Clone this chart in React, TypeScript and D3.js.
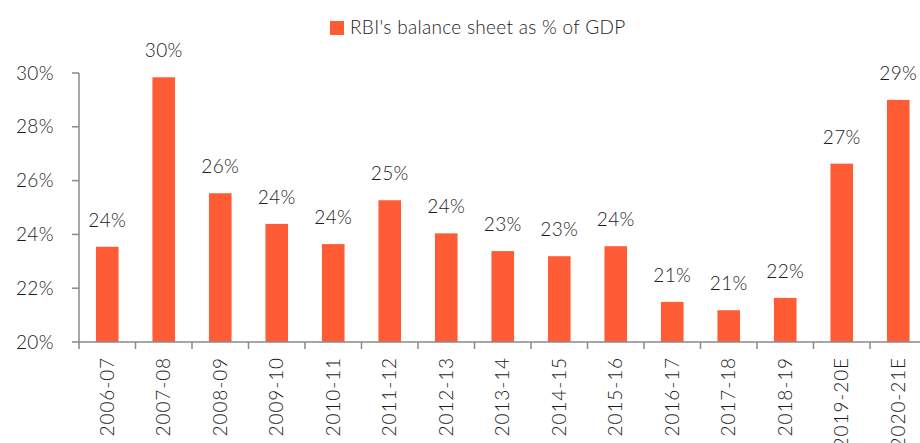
import React from "react";
import * as d3 from "d3";

const categories = ["2006-07","2007-08","2008-09","2009-10","2010-11","2011-12","2012-13","2013-14","2014-15","2015-16","2016-17","2017-18","2018-19","2019-20E","2020-21E"];
const values = [23.54,29.84,25.53,24.39,23.64,25.27,24.04,23.38,23.19,23.56,21.49,21.18,21.64,26.63,29.0];
const yTicks = [20,22,24,26,28,30];
const seriesName = "RBI's balance sheet as % of GDP";

const W = 920, H = 443;
const FONT = "Lato, 'Open Sans', sans-serif";
const BAR = "#FF5C35";
const AXIS = "#8a8a8a";
const TEXT = "#1c1c1c";

export default function App() {
  const x = d3.scaleBand<string>().domain(categories).range([79, 926.5]).paddingInner(0.6).paddingOuter(0.3);
  const y = d3.scaleLinear().domain([20, 30]).range([342, 73]);
  const step = x.step();
  return (
    <svg width={W} height={H} style={{ position: "absolute", left: 0, top: 0, background: "#fff" }} fontFamily={FONT}>
      {/* legend */}
      <rect x={330} y={21} width={14} height={14} fill={BAR} />
      <text x={350} y={34} fontSize={19} fill={TEXT} fontWeight={300} letterSpacing={0.3}>{seriesName}</text>
      {/* bars */}
      {categories.map((c, i) => (
        <g key={c}>
          <rect x={x(c)} y={y(values[i])} width={x.bandwidth()} height={y(20) - y(values[i])} fill={BAR} />
          <text x={(x(c) as number) + x.bandwidth() / 2} y={y(values[i]) - 20} textAnchor="middle" fontSize={19} fill={TEXT} fontWeight={300} letterSpacing={0.4}>
            {d3.format(".0f")(values[i]) + "%"}
          </text>
        </g>
      ))}
      {/* y axis */}
      <line x1={79} x2={79} y1={y(30)} y2={y(20)} stroke={AXIS} strokeWidth={1.5} />
      {yTicks.map(t => (
        <g key={t}>
          <line x1={72} x2={79} y1={y(t)} y2={y(t)} stroke={AXIS} strokeWidth={1.5} />
          <text x={54} y={y(t)} dy="0.35em" textAnchor="end" fontSize={19} fill={TEXT} fontWeight={300} letterSpacing={0.4}>{t + "%"}</text>
        </g>
      ))}
      {/* x axis */}
      <line x1={79} x2={W} y1={y(20)} y2={y(20)} stroke={AXIS} strokeWidth={1.5} />
      {categories.map((c, i) => (
        <line key={"t" + c} x1={79 + i * step} x2={79 + i * step} y1={y(20)} y2={y(20) + 7} stroke={AXIS} strokeWidth={1.5} />
      ))}
      {categories.map(c => {
        const cx = (x(c) as number) + x.bandwidth() / 2;
        return (
          <text key={"l" + c} transform={`translate(${cx + 6.5},${357}) rotate(-90)`} textAnchor="end" fontSize={19} fill={TEXT} fontWeight={300} letterSpacing={0.9}>
            {c}
          </text>
        );
      })}
    </svg>
  );
}
